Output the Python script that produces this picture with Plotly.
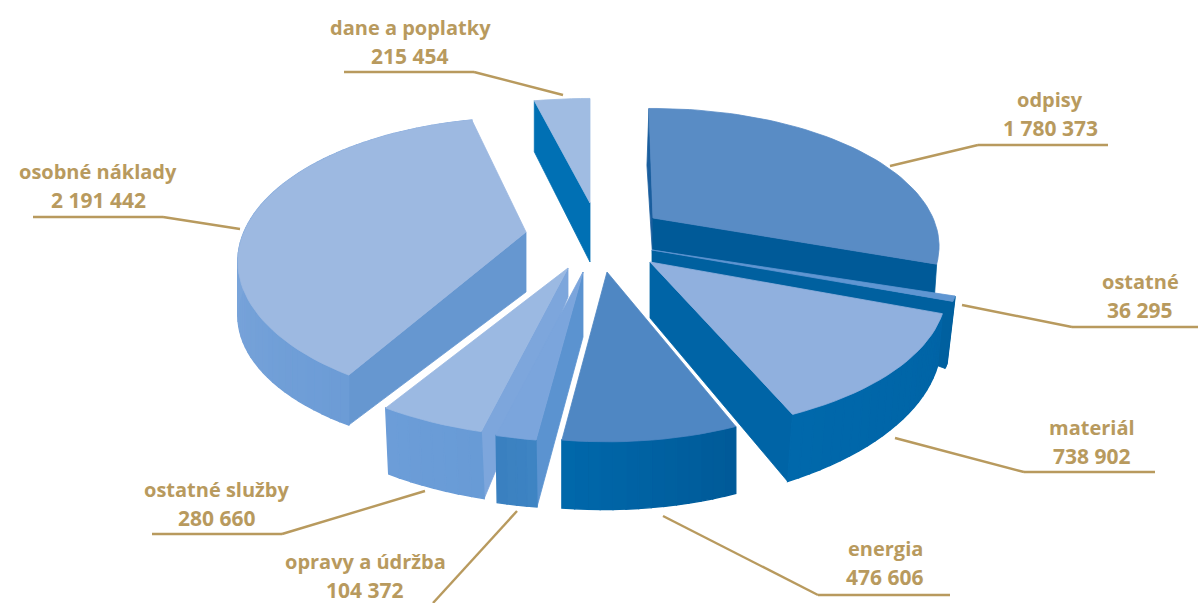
import math
import plotly.graph_objects as go

categories = ["odpisy", "ostatné", "materiál", "energia", "opravy a údržba",
              "ostatné služby", "osobné náklady", "dane a poplatky"]
values = [1780373, 36295, 738902, 476606, 104372, 280660, 2191442, 215454]

GOLD = "#B89A5E"
S, T, K = 290.0, 138.0, 0.205

# drawing style per slice (layout only)
STYLE = {
    "odpisy": dict(apex=(653, 218), ha=44, hs=57, he=29, dx=-2, top="#598CC5", s=280, t=132, rot=-1,
                   faces=["start", "end"], fs="#1A5E9E", fe="#005A98"),
    "ostatné": dict(apex=(652, 250), ha=12, hs=67, he=67, dx=-8, top="#5F96D2", s=300, t=125,
                    faces=["arc", "end"], fe="#00609F", arc=("#00609F", "#00609F")),
    "materiál": dict(apex=(650, 262), ha=56, hs=53, he=67, dx=-5, top="#90B0DE", t=135, rot=-1.5,
                     faces=["end", "arc"], fe="#0064A6", arc=("#0064A6", "#0068AB")),
    "energia": dict(apex=(607, 272), ha=60, hs=67, he=68, dx=0, top="#4F87C3", s=278, t=135,
                    faces=["arc"], arc=("#005A98", "#0068AB")),
    "opravy a údržba": dict(apex=(583, 272), ha=65, hs=67, he=67, dx=1, top="#7BA5DC", t=135,
                            faces=["start", "arc"], fs="#5B93D0", arc=("#3E84C3", "#3A80C0")),
    "ostatné služby": dict(apex=(568, 268), ha=29, hs=67, he=66, dx=3, top="#9BB9E2", t=135,
                           faces=["start", "arc"], fs="#7DA6DC", arc=("#689BD6", "#6C9DD8")),
    "osobné náklady": dict(apex=(526, 232), ha=60, hs=50, he=62, dx=0, top="#9DB9E1", s=282,
                           faces=["start", "arc"], fs="#6697D0", arc=("#6C9CD6", "#8FB1E0")),
    "dane a poplatky": dict(apex=(590, 203), ha=59, hs=51, he=51, dx=0, top="#A0BCE2", t=126,
                            faces=["start"], fs="#0070B4"),
}
PAINT_ORDER = ["osobné náklady", "dane a poplatky", "odpisy", "ostatné", "materiál",
               "energia", "ostatné služby", "opravy a údržba"]

LABELS = {
    "dane a poplatky": (410, 27), "odpisy": (1050, 99), "ostatné": (1140, 281),
    "materiál": (1092, 427), "energia": (885, 548), "opravy a údržba": (365, 561),
    "ostatné služby": (217, 489), "osobné náklady": (98, 171),
}
LEADERS = [
    [(344, 72), (474, 72), (563, 95)],
    [(890, 166), (978, 145), (1108, 145)],
    [(962, 305), (1072, 327), (1198, 327)],
    [(895, 438), (1024, 472), (1155, 472)],
    [(663, 516), (818, 595), (950, 595)],
    [(517, 511), (433, 603)],
    [(425, 491), (282, 534), (152, 534)],
    [(240, 229), (163, 217), (33, 217)],
]


def hex2rgb(h):
    return tuple(int(h[i:i + 2], 16) for i in (1, 3, 5))


def mix(a, b, f):
    ca, cb = hex2rgb(a), hex2rgb(b)
    return "rgb(%d,%d,%d)" % tuple(round(x + (y - x) * f) for x, y in zip(ca, cb))


total = sum(values)
spans = {}
acc = 0.0
for c, v in zip(categories, values):
    spans[c] = (acc, acc + v / total * 360.0)
    acc += v / total * 360.0


def project(st, deg):
    s, t = st.get("s", S), st.get("t", T)
    a = math.radians(deg + st.get("rot", 0))
    p = 1.0 / (1.0 + K * math.cos(a))
    return st["apex"][0] + s * math.sin(a) * p, st["apex"][1] - t * math.cos(a) * p


def height(st, frac, r):
    ho = st["hs"] + (st["he"] - st["hs"]) * frac
    return st["ha"] + (ho - st["ha"]) * r


def poly(fig, pts, color, name, lw=0.8):
    xs = [p[0] for p in pts] + [pts[0][0]]
    ys = [p[1] for p in pts] + [pts[0][1]]
    fig.add_trace(go.Scatter(x=xs, y=ys, mode="lines", fill="toself", fillcolor=color,
                             line=dict(color=color, width=lw), hoverinfo="text",
                             text=name, showlegend=False))


fig = go.Figure()
for name in PAINT_ORDER:
    st = STYLE[name]
    a0, a1 = spans[name]
    n = max(4, int((a1 - a0) / 2))
    angs = [a0 + (a1 - a0) * i / n for i in range(n + 1)]
    apex = st["apex"]
    apex_b = (apex[0], apex[1] + st["ha"])
    for face in st["faces"]:
        if face == "start" or face == "end":
            frac = 0.0 if face == "start" else 1.0
            ang = a0 if face == "start" else a1
            q = project(st, ang)
            h = height(st, frac, 1.0)
            poly(fig, [apex, q, (q[0] + st["dx"], q[1] + h), apex_b],
                 st["fs"] if face == "start" else st["fe"], name)
        else:
            c0, c1 = st["arc"]
            for i in range(n):
                q0, q1 = project(st, angs[i]), project(st, angs[i + 1])
                h0, h1 = height(st, i / n, 1.0), height(st, (i + 1) / n, 1.0)
                poly(fig, [q0, q1, (q1[0] + st["dx"], q1[1] + h1), (q0[0] + st["dx"], q0[1] + h0)],
                     mix(c0, c1, (i + 0.5) / n), name, lw=1.4)
    poly(fig, [apex] + [project(st, a) for a in angs], st["top"], name)

annotations = []
for c, v in zip(categories, values):
    x, y = LABELS[c]
    txt = f"{v:,}".replace(",", " ")
    annotations.append(dict(x=x, y=y, text=f"<b>{c}</b>", showarrow=False, xref="x", yref="y",
                            font=dict(family="Open Sans", size=20, color=GOLD)))
    annotations.append(dict(x=x, y=y + 28.5, text=f"<b>{txt}</b>", showarrow=False, xref="x", yref="y",
                            font=dict(family="Open Sans", size=21, color=GOLD)))

shapes = []
for seg in LEADERS:
    for p, q in zip(seg[:-1], seg[1:]):
        shapes.append(dict(type="line", xref="x", yref="y", x0=p[0], y0=p[1], x1=q[0], y1=q[1],
                           line=dict(color=GOLD, width=2.4)))

fig.update_layout(
    width=1198, height=603, margin=dict(l=0, r=0, t=0, b=0),
    paper_bgcolor="white", plot_bgcolor="white", showlegend=False,
    xaxis=dict(range=[0, 1198], visible=False, fixedrange=True),
    yaxis=dict(range=[603, 0], visible=False, fixedrange=True),
    annotations=annotations, shapes=shapes,
)
fig.write_html("out.html", config={"displayModeBar": False},
               post_script="document.body.style.margin='0';document.body.style.overflow='hidden';")
